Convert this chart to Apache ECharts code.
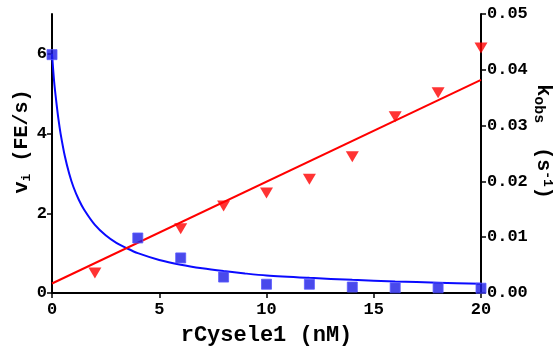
<!DOCTYPE html>
<html>
<head>
<meta charset="utf-8">
<script src="https://cdn.jsdelivr.net/npm/echarts@6/dist/echarts.min.js"></script>
<style>
html,body{margin:0;padding:0;background:#fff;overflow:hidden;}
#chart{width:559px;height:349px;}
</style>
</head>
<body>
<div id="chart"></div>
<script>
// Observed initial velocity v_i (left axis)
const vObsX = [0, 4, 6, 8, 10, 12, 14, 16, 18, 20];
const vObs  = [5.98, 1.38, 0.88, 0.40, 0.22, 0.22, 0.15, 0.13, 0.13, 0.12];
// Observed k_obs (right axis)
const kObsX = [2, 6, 8, 10, 12, 14, 16, 18, 20];
const kObs  = [0.0036, 0.0115, 0.0156, 0.0179, 0.0204, 0.0244, 0.0316, 0.0359, 0.0439];
// Fitted curve for v_i
const vFitX = [0, 0.1, 0.2, 0.3, 0.4, 0.6, 0.8, 1, 1.25, 1.5, 2, 2.5, 3, 3.5, 4, 5, 6, 7, 8, 9, 10, 12, 14, 16, 18, 20];
const vFit  = [6.0, 5.3, 4.8, 4.36, 4.0, 3.43, 3.0, 2.66, 2.34, 2.09, 1.71, 1.45, 1.26, 1.12, 1.0, 0.83, 0.71, 0.62, 0.55, 0.49, 0.44, 0.38, 0.33, 0.29, 0.26, 0.23];
// Fitted line for k_obs
const kFitX = [0, 20];
const kFit  = [0.0017, 0.0382];
// Tick labels
const xTicks = [0, 5, 10, 15, 20];
const leftTicks = [0, 2, 4, 6];
const rightTicks = [0, 0.01, 0.02, 0.03, 0.04, 0.05];

const FONT = 'Liberation Mono';
const zip = (xs, ys) => xs.map((x, i) => [x, ys[i]]);
const axisLineStyle = { color: '#000', width: 2 };
const tickStyle = { color: '#000', width: 1.5 };
const labelStyle = { color: '#000', fontFamily: FONT, fontWeight: 'bold', fontSize: 17 };
const nameRich = {
  a: { fontFamily: FONT, fontWeight: 'bold', fontSize: 20, color: '#000' },
  sub: { fontFamily: FONT, fontWeight: 'bold', fontSize: 13, color: '#000', padding: [9, 0, 0, 0] },
  subL: { fontFamily: FONT, fontWeight: 'bold', fontSize: 15, color: '#000', padding: [9, 0, 0, 0] },
  sup: { fontFamily: FONT, fontWeight: 'bold', fontSize: 13, color: '#000', padding: [0, 0, 9, 0] }
};

const chart = echarts.init(document.getElementById('chart'), null, { renderer: 'canvas', width: 559, height: 349 });
chart.setOption({
  animation: false,
  backgroundColor: '#fff',
  grid: { left: 52, right: 78, top: 14, bottom: 56, containLabel: false, outerBoundsMode: 'none' },
  xAxis: {
    type: 'value', min: 0, max: 20, interval: 5,
    axisLine: { onZero: false, lineStyle: axisLineStyle },
    axisTick: { length: 5, lineStyle: tickStyle, customValues: xTicks },
    axisLabel: Object.assign({ margin: 8, customValues: xTicks }, labelStyle),
    splitLine: { show: false },
    name: 'rCysele1 (nM)', nameLocation: 'middle', nameGap: 31, nameMoveOverlap: false,
    nameTextStyle: { color: '#000', fontFamily: FONT, fontWeight: 'bold', fontSize: 22 }
  },
  yAxis: [{
    type: 'value', min: 0, max: 7, position: 'left',
    axisLine: { show: true, onZero: false, lineStyle: axisLineStyle },
    axisTick: { show: true, length: 5, lineStyle: tickStyle, customValues: leftTicks },
    axisLabel: Object.assign({ margin: 5, customValues: leftTicks }, labelStyle),
    splitLine: { show: false },
    name: '{a|  v}{sub|i}{a| (FE/s)}', nameLocation: 'middle', nameRotate: 90, nameGap: 19, nameMoveOverlap: false,
    nameTextStyle: { color: '#000', fontFamily: FONT, fontWeight: 'bold', fontSize: 20, rich: nameRich }
  }, {
    type: 'value', min: 0, max: 0.05, interval: 0.01, position: 'right',
    axisLine: { show: true, onZero: false, lineStyle: axisLineStyle },
    axisTick: { show: true, length: 5, lineStyle: tickStyle, customValues: rightTicks },
    axisLabel: Object.assign({ margin: 6, customValues: rightTicks, formatter: v => v.toFixed(2) }, labelStyle),
    splitLine: { show: false },
    name: '{a|k}{subL|obs}{a|  (s}{sup|-1}{a|)  }', nameLocation: 'middle', nameRotate: -90, nameGap: 50, nameMoveOverlap: false,
    nameTextStyle: { color: '#000', fontFamily: FONT, fontWeight: 'bold', fontSize: 20, rich: nameRich }
  }],
  series: [
    { type: 'line', yAxisIndex: 0, data: zip(vFitX, vFit), showSymbol: false, smooth: 0.3,
      lineStyle: { color: '#0a0aff', width: 2 }, z: 2 },
    { type: 'line', yAxisIndex: 1, data: zip(kFitX, kFit), showSymbol: false,
      lineStyle: { color: '#ff0000', width: 2 }, z: 2 },
    { type: 'scatter', yAxisIndex: 1, data: zip(kObsX, kObs), symbol: 'triangle', symbolRotate: 180,
      symbolSize: [13, 11], itemStyle: { color: '#ff0000' }, z: 3 },
    { type: 'scatter', yAxisIndex: 0, data: zip(vObsX, vObs), symbol: 'rect', symbolSize: 10,
      itemStyle: { color: '#1c1ce6', borderColor: '#5a5aff', borderWidth: 1 }, z: 4 }
  ]
});
</script>
</body>
</html>
